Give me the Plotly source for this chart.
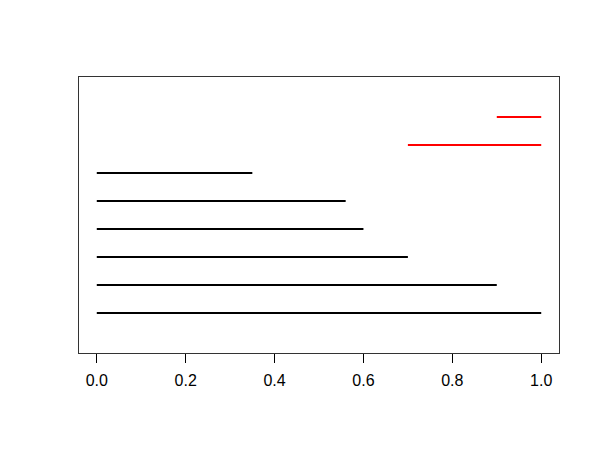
import plotly.graph_objects as go

# segment data (bottom to top)
seg_start = [0.0, 0.0, 0.0, 0.0, 0.0, 0.0, 0.7, 0.9]
seg_end = [1.0, 0.9, 0.7, 0.6, 0.56, 0.35, 1.0, 1.0]
seg_y = [1, 2, 3, 4, 5, 6, 7, 8]
seg_color = ["black"] * 6 + ["red"] * 2

x_ticks = [0.0, 0.2, 0.4, 0.6, 0.8, 1.0]

fig = go.Figure()
for x0, x1, y, c in zip(seg_start, seg_end, seg_y, seg_color):
    fig.add_trace(go.Scatter(x=[x0, x1], y=[y, y], mode="lines",
                             line=dict(color=c, width=2), showlegend=False,
                             hoverinfo="skip"))

# page body has an 8px margin, so shift plot area up/left by 8
fig.update_layout(
    width=592, height=442,
    margin=dict(l=71, r=41, t=69, b=97),
    plot_bgcolor="white", paper_bgcolor="white",
    font=dict(family="Liberation Sans, Arial, sans-serif", size=16, color="black"),
    xaxis=dict(range=[-0.04, 1.04], tickvals=x_ticks,
               ticktext=[f"{v:.1f}" for v in x_ticks],
               ticks="outside", ticklen=9, tickwidth=1, tickcolor="black",
               ticklabelstandoff=4,
               showgrid=False, zeroline=False,
               showline=True, linecolor="#333", linewidth=1, mirror=True),
    yaxis=dict(range=[-0.43, 9.43], showticklabels=False, ticks="",
               showgrid=False, zeroline=False,
               showline=True, linecolor="#333", linewidth=1, mirror=True),
)

fig.write_html("out.html")
